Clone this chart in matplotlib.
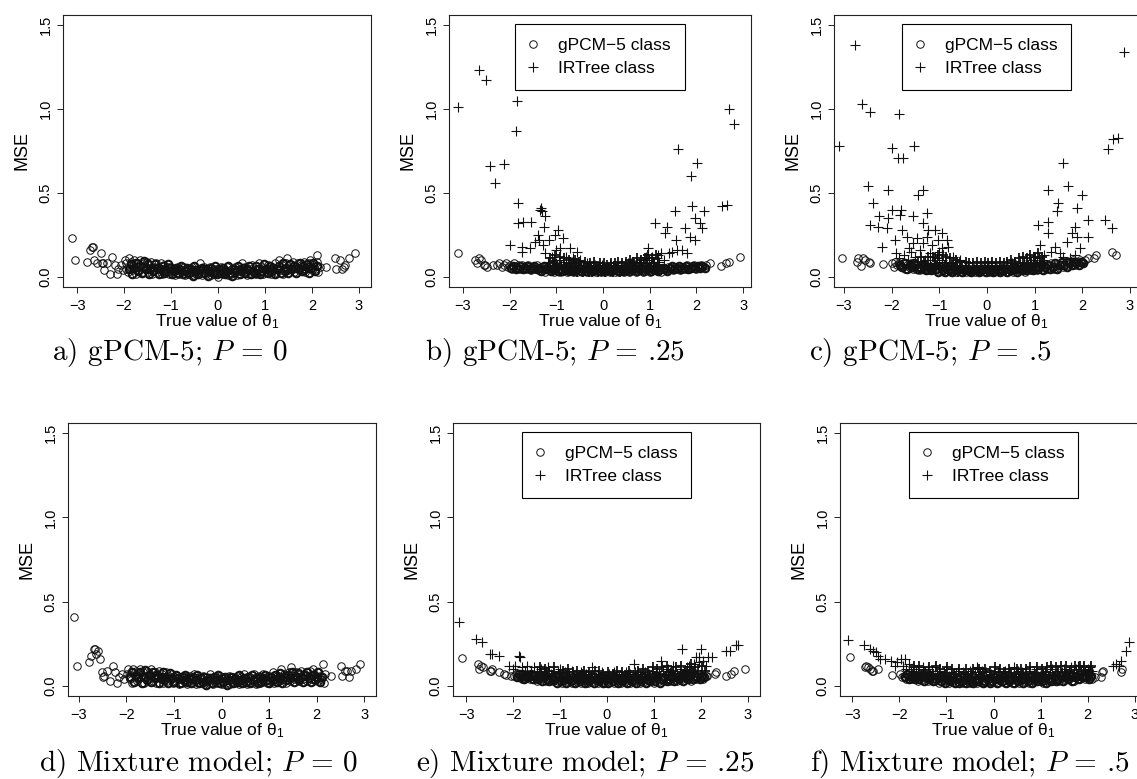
"""Recreate the 2x3 MSE-vs-true-theta scatter grid."""

import matplotlib

matplotlib.use("Agg")

import matplotlib.pyplot as plt  # noqa: E402
import numpy as np  # noqa: E402

plt.rcParams["font.family"] = ["Liberation Sans", "DejaVu Sans"]
plt.rcParams["mathtext.fontset"] = "custom"
plt.rcParams["mathtext.rm"] = "Liberation Sans"
plt.rcParams["mathtext.it"] = "Liberation Sans:italic"

# ── Data (theta, MSE) ────────────────────────────────────────────────────────
# *_GPCM / *_TREE hold the visible outliers plus one pass through the dense band,
# *_DENSE holds a second pass through the same band (the band is solid black).

A_GPCM = [
    (-3.10, 0.23), (-3.05, 0.10), (-2.78, 0.09), (-2.73, 0.16), (-2.68, 0.18), (-2.66, 0.18),
    (-2.63, 0.10), (-2.58, 0.08), (-2.50, 0.14), (-2.48, 0.08), (-2.44, 0.08), (-2.42, 0.04),
    (-2.36, 0.08), (-2.30, 0.02), (-2.25, 0.12), (-2.20, 0.07), (-2.15, 0.02), (-2.12, 0.05),
    (-2.06, 0.07), (-2.02, 0.04),
    (-1.98, 0.10), (-1.96, 0.05), (-1.95, 0.08), (-1.92, 0.03), (-1.90, 0.11), (-1.88, 0.06),
    (-1.85, 0.09), (-1.82, 0.04), (-1.80, 0.07), (-1.78, 0.10), (-1.75, 0.02), (-1.72, 0.06),
    (-1.70, 0.08), (-1.68, 0.04), (-1.65, 0.10), (-1.62, 0.06), (-1.60, 0.03), (-1.58, 0.08),
    (-1.55, 0.05), (-1.52, 0.09), (-1.50, 0.03), (-1.47, 0.07), (-1.44, 0.05), (-1.42, 0.09),
    (-1.40, 0.02), (-1.37, 0.06), (-1.35, 0.04), (-1.32, 0.08), (-1.30, 0.03), (-1.27, 0.06),
    (-1.25, 0.05), (-1.22, 0.08), (-1.20, 0.02), (-1.17, 0.04), (-1.15, 0.07), (-1.12, 0.03),
    (-1.10, 0.05), (-1.07, 0.06), (-1.05, 0.02), (-1.02, 0.04), (-1.00, 0.06), (-0.97, 0.03),
    (-0.94, 0.05), (-0.91, 0.01), (-0.88, 0.04), (-0.85, 0.06), (-0.82, 0.02), (-0.79, 0.04),
    (-0.76, 0.03), (-0.73, 0.06), (-0.70, 0.01), (-0.67, 0.04), (-0.64, 0.02), (-0.61, 0.05),
    (-0.58, 0.03), (-0.55, 0.06), (-0.52, 0.01), (-0.49, 0.04), (-0.46, 0.02), (-0.43, 0.05),
    (-0.40, 0.03), (-0.38, 0.08), (-0.35, 0.01), (-0.32, 0.04), (-0.29, 0.06), (-0.26, 0.02),
    (-0.23, 0.04), (-0.20, 0.03), (-0.17, 0.06), (-0.14, 0.01), (-0.11, 0.04), (-0.08, 0.02),
    (-0.05, 0.05), (-0.02, 0.03), (0.01, 0.00), (0.04, 0.04), (0.07, 0.06), (0.10, 0.02),
    (0.13, 0.04), (0.16, 0.03), (0.19, 0.06), (0.22, 0.01), (0.25, 0.04), (0.28, 0.02),
    (0.31, 0.05), (0.34, 0.03), (0.37, 0.06), (0.40, 0.01), (0.43, 0.04), (0.46, 0.02),
    (0.49, 0.05), (0.52, 0.08), (0.55, 0.03), (0.58, 0.06), (0.61, 0.01), (0.64, 0.04),
    (0.67, 0.02), (0.70, 0.05), (0.73, 0.07), (0.76, 0.03), (0.79, 0.05), (0.82, 0.02),
    (0.85, 0.04), (0.88, 0.08), (0.91, 0.03), (0.94, 0.06), (0.97, 0.02), (1.00, 0.05),
    (1.03, 0.03), (1.06, 0.07), (1.09, 0.04), (1.12, 0.02), (1.15, 0.06), (1.18, 0.04),
    (1.21, 0.08), (1.24, 0.03), (1.27, 0.05), (1.30, 0.10), (1.33, 0.04), (1.36, 0.07),
    (1.39, 0.02), (1.42, 0.05), (1.45, 0.08), (1.48, 0.11), (1.50, 0.04), (1.53, 0.07),
    (1.56, 0.05), (1.60, 0.09), (1.63, 0.03), (1.66, 0.06), (1.70, 0.08), (1.73, 0.04),
    (1.76, 0.07), (1.80, 0.05), (1.83, 0.09), (1.86, 0.03), (1.90, 0.06), (1.93, 0.08),
    (1.96, 0.10), (2.00, 0.04), (2.03, 0.07), (2.06, 0.05), (2.10, 0.09), (2.12, 0.13),
    (2.14, 0.03), (2.18, 0.06),
    (2.30, 0.06), (2.50, 0.11), (2.52, 0.05), (2.60, 0.10), (2.65, 0.05), (2.68, 0.06),
    (2.70, 0.07), (2.80, 0.11), (2.92, 0.14),
]
A_GPCM_DENSE = [
    (-1.90, 0.045), (-1.86, 0.075), (-1.82, 0.015), (-1.78, 0.055), (-1.74, 0.085),
    (-1.70, 0.035), (-1.66, 0.065), (-1.62, 0.025), (-1.58, 0.095), (-1.54, 0.045),
    (-1.50, 0.075), (-1.46, 0.015), (-1.42, 0.055), (-1.38, 0.035), (-1.34, 0.075),
    (-1.30, 0.055), (-1.26, 0.015), (-1.22, 0.045), (-1.18, 0.065), (-1.14, 0.025),
    (-1.10, 0.035), (-1.06, 0.075), (-1.02, 0.055), (-0.98, 0.015), (-0.94, 0.035),
    (-0.90, 0.055), (-0.86, 0.025), (-0.82, 0.045), (-0.78, 0.065), (-0.74, 0.015),
    (-0.70, 0.035), (-0.66, 0.055), (-0.62, 0.025), (-0.58, 0.045), (-0.54, 0.005),
    (-0.50, 0.065), (-0.46, 0.035), (-0.42, 0.015), (-0.38, 0.045), (-0.34, 0.055),
    (-0.30, 0.025), (-0.26, 0.045), (-0.22, 0.005), (-0.18, 0.035), (-0.14, 0.055),
    (-0.10, 0.025), (-0.06, 0.065), (-0.02, 0.015), (0.02, 0.045), (0.06, 0.025),
    (0.10, 0.055), (0.14, 0.015), (0.18, 0.035), (0.22, 0.065), (0.26, 0.025),
    (0.30, 0.005), (0.34, 0.045), (0.38, 0.035), (0.42, 0.065), (0.46, 0.015),
    (0.50, 0.035), (0.54, 0.055), (0.58, 0.025), (0.62, 0.045), (0.66, 0.065),
    (0.70, 0.015), (0.74, 0.035), (0.78, 0.025), (0.82, 0.065), (0.86, 0.045),
    (0.90, 0.015), (0.94, 0.035), (0.98, 0.075), (1.02, 0.045), (1.06, 0.025),
    (1.10, 0.065), (1.14, 0.035), (1.18, 0.055), (1.22, 0.015), (1.26, 0.045),
    (1.30, 0.065), (1.34, 0.025), (1.38, 0.085), (1.42, 0.035), (1.46, 0.055),
    (1.50, 0.025), (1.54, 0.075), (1.58, 0.045), (1.62, 0.065), (1.66, 0.025),
    (1.70, 0.055), (1.74, 0.085), (1.78, 0.035), (1.82, 0.065), (1.86, 0.045),
    (1.90, 0.075), (1.94, 0.025), (1.98, 0.055), (2.02, 0.085), (2.06, 0.035),
    (2.10, 0.065),
]

B_GPCM = [
    (-3.10, 0.14), (-2.74, 0.10), (-2.70, 0.08), (-2.66, 0.11), (-2.62, 0.10), (-2.56, 0.07),
    (-2.52, 0.07), (-2.49, 0.06), (-2.36, 0.07), (-2.28, 0.07), (-2.22, 0.08), (-2.16, 0.06),
    (-2.12, 0.07), (-2.08, 0.08), (-2.04, 0.06),
    (-2.00, 0.07), (-1.95, 0.05), (-1.90, 0.08), (-1.86, 0.06), (-1.82, 0.07), (-1.77, 0.05),
    (-1.73, 0.07), (-1.68, 0.06), (-1.64, 0.05), (-1.60, 0.07), (-1.55, 0.04), (-1.50, 0.06),
    (-1.46, 0.05), (-1.42, 0.07), (-1.37, 0.04), (-1.33, 0.06), (-1.28, 0.05), (-1.24, 0.03),
    (-1.20, 0.06), (-1.15, 0.04), (-1.10, 0.05), (-1.06, 0.03), (-1.02, 0.06), (-0.97, 0.04),
    (-0.92, 0.03), (-0.88, 0.05), (-0.83, 0.04), (-0.78, 0.03), (-0.74, 0.05), (-0.70, 0.04),
    (-0.65, 0.03), (-0.60, 0.05), (-0.55, 0.03), (-0.50, 0.04), (-0.45, 0.03), (-0.40, 0.05),
    (-0.35, 0.03), (-0.30, 0.04), (-0.25, 0.03), (-0.20, 0.05), (-0.15, 0.03), (-0.10, 0.04),
    (-0.05, 0.03), (0.00, 0.05), (0.05, 0.03), (0.10, 0.04), (0.15, 0.03), (0.20, 0.05),
    (0.25, 0.03), (0.30, 0.04), (0.35, 0.03), (0.40, 0.05), (0.45, 0.03), (0.50, 0.04),
    (0.55, 0.03), (0.60, 0.05), (0.65, 0.04), (0.70, 0.03), (0.75, 0.05), (0.80, 0.04),
    (0.85, 0.03), (0.90, 0.05), (0.95, 0.04), (1.00, 0.03), (1.05, 0.05), (1.10, 0.04),
    (1.15, 0.06), (1.20, 0.04), (1.25, 0.03), (1.30, 0.05), (1.35, 0.04), (1.40, 0.06),
    (1.45, 0.05), (1.50, 0.04), (1.55, 0.06), (1.60, 0.05), (1.65, 0.04), (1.70, 0.06),
    (1.75, 0.05), (1.80, 0.07), (1.85, 0.05), (1.90, 0.06), (1.95, 0.07), (2.00, 0.05),
    (2.05, 0.06), (2.10, 0.07), (2.15, 0.06), (2.20, 0.07),
    (2.30, 0.08), (2.52, 0.065), (2.64, 0.085), (2.70, 0.09), (2.93, 0.12),
]
B_GPCM_DENSE = [
    (-1.975, 0.055), (-1.925, 0.065), (-1.875, 0.045), (-1.825, 0.055), (-1.775, 0.065),
    (-1.725, 0.045), (-1.675, 0.055), (-1.625, 0.065), (-1.575, 0.045), (-1.525, 0.055),
    (-1.475, 0.065), (-1.425, 0.045), (-1.375, 0.055), (-1.325, 0.035), (-1.275, 0.065),
    (-1.225, 0.045), (-1.175, 0.055), (-1.125, 0.035), (-1.075, 0.045), (-1.025, 0.055),
    (-0.975, 0.035), (-0.925, 0.045), (-0.875, 0.035), (-0.825, 0.055), (-0.775, 0.045),
    (-0.725, 0.035), (-0.675, 0.045), (-0.625, 0.035), (-0.575, 0.045), (-0.525, 0.055),
    (-0.475, 0.035), (-0.425, 0.045), (-0.375, 0.035), (-0.325, 0.055), (-0.275, 0.045),
    (-0.225, 0.035), (-0.175, 0.045), (-0.125, 0.055), (-0.075, 0.035), (-0.025, 0.045),
    (0.025, 0.035), (0.075, 0.055), (0.125, 0.045), (0.175, 0.035), (0.225, 0.045),
    (0.275, 0.055), (0.325, 0.035), (0.375, 0.045), (0.425, 0.035), (0.475, 0.055),
    (0.525, 0.045), (0.575, 0.035), (0.625, 0.045), (0.675, 0.055), (0.725, 0.035),
    (0.775, 0.045), (0.825, 0.055), (0.875, 0.035), (0.925, 0.045), (0.975, 0.055),
    (1.025, 0.035), (1.075, 0.045), (1.125, 0.055), (1.175, 0.035), (1.225, 0.045),
    (1.275, 0.055), (1.325, 0.045), (1.375, 0.035), (1.425, 0.055), (1.475, 0.065),
    (1.525, 0.045), (1.575, 0.055), (1.625, 0.065), (1.675, 0.045), (1.725, 0.055),
    (1.775, 0.065), (1.825, 0.045), (1.875, 0.055), (1.925, 0.065), (1.975, 0.055),
    (2.025, 0.065), (2.075, 0.055), (2.125, 0.065), (2.175, 0.055),
]

B_TREE = [
    (-3.10, 1.01), (-2.65, 1.23), (-2.50, 1.17), (-2.42, 0.66), (-2.31, 0.56), (-2.12, 0.67),
    (-1.85, 1.05), (-1.87, 0.87), (-1.82, 0.44), (-1.82, 0.32), (-1.71, 0.33), (-1.54, 0.33),
    (-1.99, 0.19), (-1.73, 0.18), (-1.73, 0.15), (-1.56, 0.17), (-1.35, 0.40), (-1.30, 0.39),
    (-1.33, 0.41), (-1.24, 0.36), (-1.26, 0.30), (-1.39, 0.25), (-1.37, 0.22), (-1.28, 0.19),
    (-1.03, 0.25), (-0.96, 0.28), (-0.86, 0.23), (-1.24, 0.14), (-1.09, 0.12), (-0.92, 0.17),
    (-0.71, 0.17), (-0.56, 0.15), (-1.45, 0.21), (-1.15, 0.22), (-1.00, 0.16), (-0.80, 0.12),
    (-0.65, 0.11), (-0.50, 0.10), (-1.18, 0.09), (-1.05, 0.10),
    (0.97, 0.17), (1.05, 0.12), (1.11, 0.32), (1.18, 0.13), (1.25, 0.14), (1.33, 0.26),
    (1.37, 0.30), (1.42, 0.14), (1.48, 0.15), (1.54, 0.39), (1.56, 0.22), (1.58, 0.16),
    (1.60, 0.76), (1.69, 0.16), (1.76, 0.29), (1.80, 0.14), (1.86, 0.24), (1.88, 0.60),
    (1.90, 0.42), (1.97, 0.35), (1.97, 0.22), (2.01, 0.68), (2.08, 0.32), (2.12, 0.29),
    (2.16, 0.39), (2.55, 0.42), (2.65, 0.43), (2.70, 1.00), (2.80, 0.91), (0.80, 0.10),
    (0.92, 0.12), (1.30, 0.10), (0.60, 0.08),
    (-0.95, 0.10), (-0.90, 0.07), (-0.85, 0.09), (-0.80, 0.06), (-0.75, 0.08), (-0.70, 0.05),
    (-0.66, 0.09), (-0.62, 0.06), (-0.58, 0.08), (-0.54, 0.05), (-0.50, 0.07), (-0.46, 0.04),
    (-0.42, 0.07), (-0.38, 0.05), (-0.34, 0.08), (-0.30, 0.04), (-0.26, 0.06), (-0.22, 0.05),
    (-0.18, 0.07), (-0.14, 0.04), (-0.10, 0.06), (-0.06, 0.05), (-0.02, 0.07), (0.02, 0.04),
    (0.06, 0.06), (0.10, 0.05), (0.14, 0.07), (0.18, 0.04), (0.22, 0.06), (0.26, 0.05),
    (0.30, 0.07), (0.34, 0.04), (0.38, 0.06), (0.42, 0.05), (0.46, 0.07), (0.50, 0.05),
    (0.54, 0.08), (0.58, 0.06), (0.62, 0.05), (0.66, 0.07), (0.70, 0.09), (0.74, 0.06),
    (0.78, 0.08), (0.82, 0.07), (0.86, 0.09), (0.90, 0.06), (0.94, 0.08), (0.98, 0.10),
    (1.02, 0.07), (1.06, 0.09), (1.10, 0.08), (1.15, 0.11), (1.20, 0.09), (-1.00, 0.08),
    (-1.05, 0.06), (-1.10, 0.07), (-1.20, 0.06),
]
B_TREE_DENSE = [
    (-0.93, 0.12), (-0.88, 0.05), (-0.83, 0.11), (-0.78, 0.04), (-0.73, 0.10), (-0.68, 0.07),
    (-0.63, 0.04), (-0.59, 0.10), (-0.55, 0.03), (-0.51, 0.09), (-0.47, 0.06), (-0.43, 0.03),
    (-0.39, 0.09), (-0.35, 0.06), (-0.31, 0.03), (-0.27, 0.08), (-0.23, 0.03), (-0.19, 0.09),
    (-0.15, 0.06), (-0.11, 0.03), (-0.07, 0.08), (-0.03, 0.04), (0.01, 0.08), (0.05, 0.03),
    (0.09, 0.07), (0.13, 0.04), (0.17, 0.08), (0.21, 0.03), (0.25, 0.08), (0.29, 0.05),
    (0.33, 0.09), (0.37, 0.03), (0.41, 0.08), (0.45, 0.04), (0.49, 0.09), (0.53, 0.05),
    (0.57, 0.10), (0.61, 0.04), (0.65, 0.09), (0.69, 0.05), (0.73, 0.11), (0.77, 0.05),
    (0.81, 0.10), (0.85, 0.06), (0.89, 0.11), (0.93, 0.05), (0.97, 0.13), (1.01, 0.06),
    (1.05, 0.11), (1.09, 0.06), (1.13, 0.13), (1.18, 0.07), (-0.98, 0.07), (-1.03, 0.13),
    (-1.08, 0.09), (-1.13, 0.11), (-1.15, 0.08),
]

C_GPCM = [
    (-3.04, 0.11), (-2.73, 0.09), (-2.70, 0.11), (-2.64, 0.065), (-2.60, 0.11), (-2.55, 0.10),
    (-2.48, 0.09), (-2.45, 0.085), (-2.18, 0.077), (-1.99, 0.08), (-1.95, 0.06), (-1.92, 0.09),
    (-1.88, 0.07),
    (-1.85, 0.08), (-1.80, 0.06), (-1.76, 0.08), (-1.72, 0.05), (-1.68, 0.07), (-1.64, 0.06),
    (-1.60, 0.08), (-1.55, 0.05), (-1.50, 0.07), (-1.46, 0.06), (-1.42, 0.04), (-1.38, 0.07),
    (-1.33, 0.05), (-1.28, 0.06), (-1.24, 0.04), (-1.20, 0.06), (-1.15, 0.05), (-1.10, 0.04),
    (-1.05, 0.06), (-1.00, 0.04), (-0.95, 0.05), (-0.90, 0.03), (-0.85, 0.05), (-0.80, 0.04),
    (-0.75, 0.03), (-0.70, 0.05), (-0.65, 0.03), (-0.60, 0.04), (-0.55, 0.03), (-0.50, 0.05),
    (-0.45, 0.03), (-0.40, 0.04), (-0.35, 0.03), (-0.30, 0.05), (-0.25, 0.03), (-0.20, 0.04),
    (-0.15, 0.03), (-0.10, 0.05), (-0.05, 0.03), (0.00, 0.04), (0.05, 0.03), (0.10, 0.05),
    (0.15, 0.03), (0.20, 0.04), (0.25, 0.03), (0.30, 0.05), (0.35, 0.04), (0.40, 0.03),
    (0.45, 0.05), (0.50, 0.04), (0.55, 0.03), (0.60, 0.05), (0.65, 0.04), (0.70, 0.06),
    (0.75, 0.04), (0.80, 0.03), (0.85, 0.05), (0.90, 0.04), (0.95, 0.06), (1.00, 0.05),
    (1.05, 0.04), (1.10, 0.06), (1.15, 0.05), (1.20, 0.07), (1.25, 0.05), (1.30, 0.06),
    (1.35, 0.08), (1.40, 0.05), (1.45, 0.07), (1.50, 0.06), (1.55, 0.08), (1.60, 0.06),
    (1.65, 0.09), (1.70, 0.07), (1.75, 0.08), (1.80, 0.10), (1.85, 0.07), (1.90, 0.09),
    (1.95, 0.10), (2.00, 0.08), (2.05, 0.10),
    (2.12, 0.11), (2.25, 0.11), (2.28, 0.13), (2.62, 0.15), (2.70, 0.13),
]
C_GPCM_DENSE = [
    (-1.825, 0.07), (-1.775, 0.06), (-1.725, 0.08), (-1.675, 0.05), (-1.625, 0.07),
    (-1.575, 0.06), (-1.525, 0.08), (-1.475, 0.05), (-1.425, 0.06), (-1.375, 0.05),
    (-1.325, 0.07), (-1.275, 0.04), (-1.225, 0.06), (-1.175, 0.04), (-1.125, 0.06),
    (-1.075, 0.05), (-1.025, 0.03), (-0.975, 0.06), (-0.925, 0.04), (-0.875, 0.03),
    (-0.825, 0.05), (-0.775, 0.04), (-0.725, 0.03), (-0.675, 0.05), (-0.625, 0.04),
    (-0.575, 0.05), (-0.525, 0.03), (-0.475, 0.04), (-0.425, 0.05), (-0.375, 0.04),
    (-0.325, 0.03), (-0.275, 0.05), (-0.225, 0.04), (-0.175, 0.03), (-0.125, 0.04),
    (-0.075, 0.05), (-0.025, 0.03), (0.025, 0.05), (0.075, 0.04), (0.125, 0.03),
    (0.175, 0.05), (0.225, 0.04), (0.275, 0.03), (0.325, 0.04), (0.375, 0.05),
    (0.425, 0.03), (0.475, 0.05), (0.525, 0.04), (0.575, 0.06), (0.625, 0.03),
    (0.675, 0.05), (0.725, 0.04), (0.775, 0.06), (0.825, 0.04), (0.875, 0.06),
    (0.925, 0.05), (0.975, 0.04), (1.025, 0.06), (1.075, 0.05), (1.125, 0.07),
    (1.175, 0.04), (1.225, 0.06), (1.275, 0.07), (1.325, 0.05), (1.375, 0.06),
    (1.425, 0.08), (1.475, 0.05), (1.525, 0.07), (1.575, 0.09), (1.625, 0.07),
    (1.675, 0.06), (1.725, 0.09), (1.775, 0.07), (1.825, 0.09), (1.875, 0.08),
    (1.925, 0.07), (1.975, 0.09), (2.025, 0.08),
]

C_TREE = [
    (-2.77, 1.38), (-3.10, 0.78), (-2.62, 1.03), (-2.45, 0.98), (-1.84, 0.97), (-1.99, 0.77),
    (-1.87, 0.71), (-1.76, 0.71), (-1.53, 0.78), (-2.49, 0.54), (-2.08, 0.52), (-2.39, 0.44),
    (-2.45, 0.31), (-2.29, 0.30), (-2.26, 0.36), (-2.08, 0.35), (-1.99, 0.40), (-2.10, 0.29),
    (-2.20, 0.18), (-1.93, 0.22), (-1.80, 0.40), (-1.82, 0.37), (-1.78, 0.28), (-1.68, 0.24),
    (-1.63, 0.17), (-1.55, 0.36), (-1.45, 0.49), (-1.34, 0.52), (-1.47, 0.23), (-1.34, 0.32),
    (-1.26, 0.38), (-1.24, 0.28), (-1.34, 0.20), (-1.09, 0.28), (-1.03, 0.22), (-0.94, 0.26),
    (-0.84, 0.22), (-0.94, 0.17), (-0.82, 0.18), (-0.71, 0.12), (-0.57, 0.10), (-1.90, 0.14),
    (-1.75, 0.13), (-1.60, 0.15), (-1.50, 0.12), (-1.40, 0.16), (-1.20, 0.14), (-1.15, 0.19),
    (-1.10, 0.12), (-1.00, 0.15), (-1.30, 0.10), (-1.65, 0.10), (-1.85, 0.11), (-1.55, 0.20),
    (-1.25, 0.24),
    (1.28, 0.33), (1.28, 0.52), (1.59, 0.68), (1.70, 0.54), (1.99, 0.49), (1.84, 0.30),
    (1.49, 0.44), (1.47, 0.39), (1.89, 0.41), (2.12, 0.34), (2.12, 0.24), (2.54, 0.76),
    (2.64, 0.82), (2.75, 0.83), (2.87, 1.34), (2.47, 0.34), (2.62, 0.29), (1.07, 0.31),
    (1.11, 0.19), (1.28, 0.26), (1.43, 0.18), (1.68, 0.21), (1.78, 0.26), (1.89, 0.24),
    (1.95, 0.17), (1.53, 0.14), (1.35, 0.15), (1.20, 0.13), (1.00, 0.12), (1.60, 0.12),
    (1.75, 0.11), (1.85, 0.13), (0.90, 0.10),
    (-0.95, 0.10), (-0.91, 0.07), (-0.87, 0.09), (-0.83, 0.06), (-0.79, 0.08), (-0.75, 0.05),
    (-0.71, 0.08), (-0.67, 0.06), (-0.63, 0.09), (-0.59, 0.05), (-0.55, 0.07), (-0.51, 0.04),
    (-0.47, 0.07), (-0.43, 0.05), (-0.39, 0.06), (-0.35, 0.04), (-0.31, 0.06), (-0.27, 0.05),
    (-0.23, 0.07), (-0.19, 0.04), (-0.15, 0.06), (-0.11, 0.05), (-0.07, 0.07), (-0.03, 0.04),
    (0.01, 0.06), (0.05, 0.05), (0.09, 0.08), (0.13, 0.04), (0.17, 0.06), (0.21, 0.05),
    (0.25, 0.07), (0.29, 0.04), (0.33, 0.06), (0.37, 0.05), (0.41, 0.07), (0.45, 0.05),
    (0.49, 0.06), (0.53, 0.08), (0.57, 0.05), (0.61, 0.07), (0.65, 0.06), (0.69, 0.08),
    (0.73, 0.06), (0.77, 0.09), (0.81, 0.07), (0.85, 0.09), (0.89, 0.06), (0.93, 0.08),
    (0.97, 0.10), (1.01, 0.07), (1.05, 0.09), (1.09, 0.11), (1.13, 0.08), (1.17, 0.10),
    (-1.00, 0.09), (-1.05, 0.11), (-1.12, 0.08), (-1.20, 0.10), (-1.28, 0.07),
]
C_TREE_DENSE = [
    (-0.93, 0.13), (-0.89, 0.05), (-0.85, 0.12), (-0.81, 0.04), (-0.77, 0.11), (-0.73, 0.07),
    (-0.69, 0.04), (-0.65, 0.10), (-0.61, 0.03), (-0.57, 0.09), (-0.53, 0.06), (-0.49, 0.03),
    (-0.45, 0.09), (-0.41, 0.04), (-0.37, 0.08), (-0.33, 0.03), (-0.29, 0.08), (-0.25, 0.04),
    (-0.21, 0.09), (-0.17, 0.03), (-0.13, 0.08), (-0.09, 0.04), (-0.05, 0.09), (-0.01, 0.03),
    (0.03, 0.08), (0.07, 0.04), (0.11, 0.09), (0.15, 0.03), (0.19, 0.08), (0.23, 0.04),
    (0.27, 0.09), (0.31, 0.05), (0.35, 0.08), (0.39, 0.03), (0.43, 0.09), (0.47, 0.04),
    (0.51, 0.10), (0.55, 0.04), (0.59, 0.09), (0.63, 0.05), (0.67, 0.11), (0.71, 0.05),
    (0.75, 0.12), (0.79, 0.05), (0.83, 0.11), (0.87, 0.07), (0.91, 0.13), (0.95, 0.06),
    (0.99, 0.12), (1.03, 0.07), (1.07, 0.14), (1.11, 0.08), (1.15, 0.12), (1.19, 0.07),
    (-0.98, 0.06), (-1.02, 0.13), (-1.07, 0.07), (-1.14, 0.12), (-1.18, 0.06), (-1.24, 0.12),
    (-1.32, 0.08), (-1.38, 0.12), (-1.44, 0.09),
]

D_GPCM = [
    (-3.10, 0.41), (-3.05, 0.12), (-2.78, 0.14), (-2.74, 0.18), (-2.68, 0.22), (-2.66, 0.22),
    (-2.64, 0.19), (-2.60, 0.21), (-2.55, 0.16), (-2.52, 0.08), (-2.50, 0.05), (-2.47, 0.06),
    (-2.40, 0.09), (-2.35, 0.03), (-2.28, 0.12), (-2.25, 0.08), (-2.20, 0.02), (-2.15, 0.05),
    (-2.10, 0.07), (-2.05, 0.04),
    (-1.99, 0.07), (-1.96, 0.10), (-1.93, 0.04), (-1.91, 0.08), (-1.88, 0.02), (-1.86, 0.10),
    (-1.83, 0.06), (-1.80, 0.09), (-1.77, 0.03), (-1.74, 0.07), (-1.71, 0.10), (-1.69, 0.05),
    (-1.66, 0.08), (-1.63, 0.02), (-1.60, 0.06), (-1.57, 0.09), (-1.54, 0.04), (-1.51, 0.07),
    (-1.48, 0.10), (-1.45, 0.03), (-1.43, 0.06), (-1.40, 0.08), (-1.37, 0.02), (-1.34, 0.05),
    (-1.31, 0.09), (-1.28, 0.04), (-1.26, 0.07), (-1.23, 0.02), (-1.20, 0.05), (-1.17, 0.08),
    (-1.14, 0.03), (-1.11, 0.06), (-1.08, 0.04), (-1.05, 0.07), (-1.02, 0.02), (-0.99, 0.05),
    (-0.96, 0.03), (-0.93, 0.06), (-0.90, 0.01), (-0.87, 0.04), (-0.84, 0.02), (-0.81, 0.06),
    (-0.78, 0.03), (-0.75, 0.05), (-0.72, 0.01), (-0.69, 0.04), (-0.66, 0.06), (-0.63, 0.02),
    (-0.60, 0.04), (-0.57, 0.07), (-0.54, 0.01), (-0.51, 0.03), (-0.48, 0.05), (-0.45, 0.02),
    (-0.42, 0.04), (-0.39, 0.06), (-0.36, 0.01), (-0.33, 0.03), (-0.30, 0.05), (-0.27, 0.02),
    (-0.24, 0.07), (-0.21, 0.04), (-0.18, 0.01), (-0.15, 0.03), (-0.12, 0.05), (-0.09, 0.02),
    (-0.06, 0.04), (-0.03, 0.06), (0.00, 0.01), (0.03, 0.03), (0.06, 0.05), (0.09, 0.02),
    (0.12, 0.04), (0.15, 0.06), (0.18, 0.01), (0.21, 0.03), (0.24, 0.05), (0.27, 0.02),
    (0.30, 0.04), (0.33, 0.06), (0.36, 0.01), (0.39, 0.03), (0.42, 0.05), (0.45, 0.02),
    (0.48, 0.07), (0.51, 0.04), (0.54, 0.01), (0.57, 0.03), (0.60, 0.05), (0.63, 0.02),
    (0.66, 0.04), (0.69, 0.07), (0.72, 0.01), (0.75, 0.03), (0.78, 0.06), (0.81, 0.02),
    (0.84, 0.04), (0.87, 0.07), (0.90, 0.03), (0.93, 0.05), (0.96, 0.02), (0.99, 0.06),
    (1.02, 0.03), (1.05, 0.05), (1.08, 0.08), (1.11, 0.02), (1.14, 0.04), (1.17, 0.06),
    (1.20, 0.03), (1.23, 0.05), (1.26, 0.10), (1.29, 0.04), (1.32, 0.07), (1.35, 0.02),
    (1.38, 0.05), (1.41, 0.08), (1.44, 0.03), (1.47, 0.11), (1.50, 0.06), (1.53, 0.04),
    (1.56, 0.08), (1.59, 0.05), (1.62, 0.03), (1.65, 0.07), (1.68, 0.09), (1.71, 0.04),
    (1.74, 0.06), (1.77, 0.08), (1.80, 0.03), (1.83, 0.06), (1.86, 0.09), (1.89, 0.04),
    (1.92, 0.10), (1.95, 0.07), (1.98, 0.05), (2.01, 0.08), (2.04, 0.03), (2.07, 0.06),
    (2.10, 0.04), (2.13, 0.13), (2.15, 0.02), (2.18, 0.07),
    (2.30, 0.06), (2.52, 0.12), (2.53, 0.06), (2.60, 0.09), (2.65, 0.09), (2.68, 0.05),
    (2.72, 0.09), (2.82, 0.10), (2.92, 0.13),
]
D_GPCM_DENSE = [
    (-1.92, 0.055), (-1.88, 0.085), (-1.84, 0.025), (-1.80, 0.065), (-1.76, 0.045),
    (-1.72, 0.085), (-1.68, 0.015), (-1.64, 0.055), (-1.60, 0.095), (-1.56, 0.035),
    (-1.52, 0.065), (-1.48, 0.025), (-1.44, 0.085), (-1.40, 0.045), (-1.36, 0.065),
    (-1.32, 0.015), (-1.28, 0.055), (-1.24, 0.085), (-1.20, 0.035), (-1.16, 0.055),
    (-1.12, 0.015), (-1.08, 0.075), (-1.04, 0.045), (-1.00, 0.025), (-0.96, 0.065),
    (-0.92, 0.045), (-0.88, 0.015), (-0.84, 0.055), (-0.80, 0.035), (-0.76, 0.065),
    (-0.72, 0.025), (-0.68, 0.045), (-0.64, 0.015), (-0.60, 0.055), (-0.56, 0.035),
    (-0.52, 0.065), (-0.48, 0.015), (-0.44, 0.045), (-0.40, 0.025), (-0.36, 0.055),
    (-0.32, 0.005), (-0.28, 0.035), (-0.24, 0.045), (-0.20, 0.015), (-0.16, 0.055),
    (-0.12, 0.035), (-0.08, 0.065), (-0.04, 0.015), (0.00, 0.045), (0.04, 0.025),
    (0.08, 0.055), (0.12, 0.005), (0.16, 0.035), (0.20, 0.055), (0.24, 0.015),
    (0.28, 0.045), (0.32, 0.025), (0.36, 0.065), (0.40, 0.035), (0.44, 0.015),
    (0.48, 0.045), (0.52, 0.025), (0.56, 0.055), (0.60, 0.015), (0.64, 0.065),
    (0.68, 0.035), (0.72, 0.045), (0.76, 0.015), (0.80, 0.055), (0.84, 0.025),
    (0.88, 0.045), (0.92, 0.065), (0.96, 0.035), (1.00, 0.015), (1.04, 0.055),
    (1.08, 0.035), (1.12, 0.065), (1.16, 0.025), (1.20, 0.045), (1.24, 0.075),
    (1.28, 0.015), (1.32, 0.055), (1.36, 0.035), (1.40, 0.065), (1.44, 0.045),
    (1.48, 0.085), (1.52, 0.025), (1.56, 0.055), (1.60, 0.075), (1.64, 0.035),
    (1.68, 0.055), (1.72, 0.025), (1.76, 0.065), (1.80, 0.085), (1.84, 0.045),
    (1.88, 0.025), (1.92, 0.065), (1.96, 0.035), (2.00, 0.055), (2.04, 0.085),
    (2.08, 0.025), (2.12, 0.055),
]

E_GPCM = [
    (-3.08, 0.165), (-2.75, 0.13), (-2.72, 0.10), (-2.68, 0.12), (-2.64, 0.11), (-2.50, 0.09),
    (-2.47, 0.09), (-2.45, 0.10), (-2.30, 0.08), (-2.20, 0.07), (-2.15, 0.065), (-2.05, 0.06),
    (-1.98, 0.06),
    (-1.94, 0.07), (-1.90, 0.05), (-1.86, 0.06), (-1.82, 0.04), (-1.78, 0.06), (-1.74, 0.05),
    (-1.70, 0.07), (-1.65, 0.04), (-1.60, 0.06), (-1.55, 0.05), (-1.50, 0.03), (-1.45, 0.06),
    (-1.40, 0.04), (-1.35, 0.05), (-1.30, 0.03), (-1.25, 0.05), (-1.20, 0.04), (-1.15, 0.03),
    (-1.10, 0.05), (-1.05, 0.03), (-1.00, 0.04), (-0.95, 0.02), (-0.90, 0.04), (-0.85, 0.03),
    (-0.80, 0.05), (-0.75, 0.02), (-0.70, 0.04), (-0.65, 0.03), (-0.60, 0.05), (-0.55, 0.02),
    (-0.50, 0.04), (-0.45, 0.03), (-0.40, 0.02), (-0.35, 0.04), (-0.30, 0.03), (-0.25, 0.05),
    (-0.20, 0.02), (-0.15, 0.04), (-0.10, 0.03), (-0.05, 0.02), (0.00, 0.04), (0.05, 0.03),
    (0.10, 0.05), (0.15, 0.02), (0.20, 0.04), (0.25, 0.03), (0.30, 0.02), (0.35, 0.04),
    (0.40, 0.03), (0.45, 0.05), (0.50, 0.02), (0.55, 0.04), (0.60, 0.03), (0.65, 0.05),
    (0.70, 0.02), (0.75, 0.04), (0.80, 0.03), (0.85, 0.05), (0.90, 0.03), (0.95, 0.04),
    (1.00, 0.02), (1.05, 0.04), (1.10, 0.03), (1.15, 0.05), (1.20, 0.03), (1.25, 0.04),
    (1.30, 0.06), (1.35, 0.03), (1.40, 0.05), (1.45, 0.04), (1.50, 0.03), (1.55, 0.05),
    (1.60, 0.04), (1.65, 0.06), (1.70, 0.04), (1.75, 0.05), (1.80, 0.03), (1.85, 0.05),
    (1.90, 0.04), (1.95, 0.06), (2.00, 0.05), (2.05, 0.04), (2.10, 0.06), (2.13, 0.06),
    (2.30, 0.07), (2.32, 0.08), (2.53, 0.06), (2.64, 0.07), (2.70, 0.09), (2.94, 0.10),
]
E_GPCM_DENSE = [
    (-1.92, 0.05), (-1.88, 0.07), (-1.84, 0.05), (-1.80, 0.07), (-1.76, 0.04), (-1.72, 0.06),
    (-1.675, 0.05), (-1.625, 0.07), (-1.575, 0.04), (-1.525, 0.06), (-1.475, 0.04),
    (-1.425, 0.05), (-1.375, 0.03), (-1.325, 0.06), (-1.275, 0.04), (-1.225, 0.03),
    (-1.175, 0.05), (-1.125, 0.04), (-1.075, 0.02), (-1.025, 0.05), (-0.975, 0.03),
    (-0.925, 0.05), (-0.875, 0.02), (-0.825, 0.04), (-0.775, 0.03), (-0.725, 0.05),
    (-0.675, 0.02), (-0.625, 0.04), (-0.575, 0.03), (-0.525, 0.05), (-0.475, 0.02),
    (-0.425, 0.04), (-0.375, 0.03), (-0.325, 0.05), (-0.275, 0.02), (-0.225, 0.04),
    (-0.175, 0.03), (-0.125, 0.05), (-0.075, 0.02), (-0.025, 0.04), (0.025, 0.02),
    (0.075, 0.04), (0.125, 0.03), (0.175, 0.05), (0.225, 0.02), (0.275, 0.04),
    (0.325, 0.03), (0.375, 0.05), (0.425, 0.02), (0.475, 0.04), (0.525, 0.03),
    (0.575, 0.05), (0.625, 0.02), (0.675, 0.04), (0.725, 0.03), (0.775, 0.05),
    (0.825, 0.02), (0.875, 0.04), (0.925, 0.03), (0.975, 0.05), (1.025, 0.03),
    (1.075, 0.05), (1.125, 0.02), (1.175, 0.04), (1.225, 0.05), (1.275, 0.03),
    (1.325, 0.04), (1.375, 0.05), (1.425, 0.03), (1.475, 0.05), (1.525, 0.04),
    (1.575, 0.06), (1.625, 0.03), (1.675, 0.05), (1.725, 0.04), (1.775, 0.06),
    (1.825, 0.04), (1.875, 0.06), (1.925, 0.05), (1.975, 0.04), (2.025, 0.06),
    (2.075, 0.05),
]

E_TREE = [
    (-3.15, 0.38), (-2.79, 0.28), (-2.66, 0.26), (-2.50, 0.19), (-2.45, 0.19), (-2.30, 0.18),
    (-2.09, 0.12), (-1.87, 0.18), (-1.85, 0.17), (-2.00, 0.10), (-1.95, 0.12), (-1.80, 0.11),
    (-1.75, 0.09), (-1.70, 0.12), (-1.62, 0.08), (-1.55, 0.11), (-1.50, 0.09),
    (-1.45, 0.08), (-1.40, 0.10), (-1.35, 0.07), (-1.30, 0.09), (-1.25, 0.11), (-1.20, 0.07),
    (-1.15, 0.09), (-1.10, 0.06), (-1.05, 0.08), (-1.00, 0.10), (-0.95, 0.06), (-0.90, 0.08),
    (-0.85, 0.05), (-0.80, 0.07), (-0.75, 0.09), (-0.70, 0.05), (-0.65, 0.07), (-0.60, 0.06),
    (-0.55, 0.08), (-0.50, 0.05), (-0.45, 0.07), (-0.40, 0.06), (-0.35, 0.04), (-0.32, 0.11),
    (-0.28, 0.07), (-0.24, 0.05), (-0.20, 0.07), (-0.15, 0.05), (-0.10, 0.08), (-0.05, 0.06),
    (0.00, 0.05), (0.05, 0.07), (0.10, 0.05), (0.15, 0.08), (0.20, 0.06), (0.25, 0.05),
    (0.30, 0.07), (0.35, 0.06), (0.40, 0.08), (0.45, 0.05), (0.50, 0.07), (0.55, 0.06),
    (0.57, 0.13), (0.60, 0.08), (0.65, 0.06), (0.70, 0.07), (0.75, 0.05), (0.80, 0.08),
    (0.85, 0.06), (0.90, 0.07), (0.95, 0.09), (1.00, 0.06), (1.05, 0.08), (1.10, 0.07),
    (1.15, 0.15), (1.20, 0.09), (1.25, 0.07), (1.30, 0.10), (1.35, 0.08), (1.40, 0.12),
    (1.45, 0.09), (1.50, 0.07), (1.55, 0.10), (1.60, 0.22), (1.65, 0.08), (1.70, 0.11),
    (1.75, 0.12), (1.80, 0.10), (1.85, 0.13), (1.90, 0.17), (1.95, 0.14), (1.97, 0.17),
    (2.00, 0.22), (2.05, 0.15), (2.10, 0.12), (2.15, 0.17), (2.23, 0.17),
    (2.53, 0.21), (2.63, 0.21), (2.74, 0.24), (2.80, 0.24),
]
E_TREE_DENSE = [
    (-1.43, 0.11), (-1.38, 0.05), (-1.33, 0.10), (-1.28, 0.06), (-1.23, 0.09), (-1.18, 0.05),
    (-1.13, 0.11), (-1.08, 0.04), (-1.03, 0.07), (-0.98, 0.04), (-0.93, 0.09), (-0.88, 0.06),
    (-0.83, 0.10), (-0.78, 0.04), (-0.73, 0.08), (-0.68, 0.04), (-0.63, 0.09), (-0.58, 0.04),
    (-0.53, 0.07), (-0.48, 0.09), (-0.43, 0.04), (-0.38, 0.08), (-0.33, 0.05), (-0.26, 0.09),
    (-0.22, 0.04), (-0.18, 0.09), (-0.13, 0.04), (-0.08, 0.07), (-0.03, 0.04), (0.02, 0.08),
    (0.07, 0.04), (0.12, 0.07), (0.17, 0.04), (0.22, 0.09), (0.27, 0.04), (0.32, 0.08),
    (0.37, 0.04), (0.42, 0.06), (0.47, 0.09), (0.52, 0.04), (0.62, 0.05), (0.67, 0.09),
    (0.72, 0.05), (0.77, 0.10), (0.82, 0.05), (0.87, 0.09), (0.92, 0.05), (0.97, 0.11),
    (1.02, 0.05), (1.07, 0.10), (1.12, 0.06), (1.18, 0.11), (1.23, 0.06), (1.28, 0.12),
    (1.33, 0.06), (1.38, 0.09), (1.43, 0.06), (1.48, 0.11), (1.53, 0.06), (1.58, 0.12),
    (1.63, 0.07), (1.68, 0.09), (1.73, 0.07), (1.78, 0.13), (1.83, 0.08), (1.88, 0.11),
    (1.93, 0.09), (2.03, 0.12), (2.08, 0.09),
]

F_GPCM = [
    (-3.04, 0.17), (-2.72, 0.11), (-2.70, 0.12), (-2.66, 0.11), (-2.62, 0.10), (-2.58, 0.09),
    (-2.55, 0.09), (-2.45, 0.10), (-2.15, 0.065), (-1.98, 0.07), (-1.95, 0.05),
    (-1.90, 0.06), (-1.86, 0.04), (-1.82, 0.06), (-1.78, 0.05), (-1.74, 0.04), (-1.70, 0.06),
    (-1.65, 0.05), (-1.60, 0.03), (-1.55, 0.05), (-1.50, 0.04), (-1.45, 0.06), (-1.40, 0.03),
    (-1.35, 0.05), (-1.30, 0.04), (-1.25, 0.03), (-1.20, 0.05), (-1.15, 0.02), (-1.10, 0.04),
    (-1.05, 0.03), (-1.00, 0.05), (-0.95, 0.02), (-0.90, 0.04), (-0.85, 0.03), (-0.80, 0.02),
    (-0.75, 0.04), (-0.70, 0.03), (-0.65, 0.02), (-0.60, 0.04), (-0.55, 0.03), (-0.50, 0.02),
    (-0.45, 0.04), (-0.40, 0.03), (-0.35, 0.02), (-0.30, 0.04), (-0.25, 0.03), (-0.20, 0.02),
    (-0.15, 0.04), (-0.10, 0.03), (-0.05, 0.02), (0.00, 0.04), (0.05, 0.03), (0.10, 0.02),
    (0.15, 0.04), (0.20, 0.03), (0.25, 0.02), (0.30, 0.04), (0.35, 0.03), (0.40, 0.02),
    (0.45, 0.04), (0.50, 0.03), (0.55, 0.02), (0.60, 0.04), (0.65, 0.03), (0.70, 0.05),
    (0.75, 0.02), (0.80, 0.04), (0.85, 0.03), (0.90, 0.05), (0.95, 0.03), (1.00, 0.04),
    (1.05, 0.02), (1.10, 0.04), (1.15, 0.03), (1.20, 0.05), (1.25, 0.03), (1.30, 0.04),
    (1.35, 0.05), (1.40, 0.03), (1.45, 0.05), (1.50, 0.04), (1.55, 0.06), (1.60, 0.04),
    (1.65, 0.05), (1.70, 0.03), (1.75, 0.05), (1.80, 0.04), (1.85, 0.06), (1.90, 0.05),
    (1.95, 0.04), (2.00, 0.06), (2.05, 0.05), (2.10, 0.04),
    (2.15, 0.05), (2.28, 0.05), (2.30, 0.08), (2.33, 0.09), (2.70, 0.08), (2.72, 0.10),
]
F_GPCM_DENSE = [
    (-1.88, 0.05), (-1.84, 0.07), (-1.80, 0.04), (-1.76, 0.06), (-1.72, 0.05),
    (-1.675, 0.04), (-1.625, 0.06), (-1.575, 0.04), (-1.525, 0.06), (-1.475, 0.03),
    (-1.425, 0.05), (-1.375, 0.04), (-1.325, 0.06), (-1.275, 0.03), (-1.225, 0.04),
    (-1.175, 0.05), (-1.125, 0.03), (-1.075, 0.05), (-1.025, 0.02), (-0.975, 0.04),
    (-0.925, 0.03), (-0.875, 0.05), (-0.825, 0.02), (-0.775, 0.04), (-0.725, 0.02),
    (-0.675, 0.03), (-0.625, 0.05), (-0.575, 0.02), (-0.525, 0.04), (-0.475, 0.03),
    (-0.425, 0.02), (-0.375, 0.04), (-0.325, 0.03), (-0.275, 0.05), (-0.225, 0.02),
    (-0.175, 0.03), (-0.125, 0.04), (-0.075, 0.02), (-0.025, 0.03), (0.025, 0.05),
    (0.075, 0.02), (0.125, 0.04), (0.175, 0.03), (0.225, 0.05), (0.275, 0.02),
    (0.325, 0.03), (0.375, 0.04), (0.425, 0.02), (0.475, 0.05), (0.525, 0.03),
    (0.575, 0.04), (0.625, 0.02), (0.675, 0.04), (0.725, 0.03), (0.775, 0.05),
    (0.825, 0.02), (0.875, 0.04), (0.925, 0.03), (0.975, 0.05), (1.025, 0.03),
    (1.075, 0.05), (1.125, 0.02), (1.175, 0.04), (1.225, 0.03), (1.275, 0.05),
    (1.325, 0.03), (1.375, 0.04), (1.425, 0.06), (1.475, 0.03), (1.525, 0.05),
    (1.575, 0.04), (1.625, 0.06), (1.675, 0.03), (1.725, 0.05), (1.775, 0.06),
    (1.825, 0.04), (1.875, 0.05), (1.925, 0.06), (1.975, 0.05), (2.025, 0.04),
    (2.075, 0.06),
]

F_TREE = [
    (-3.10, 0.27), (-2.75, 0.24), (-2.62, 0.22), (-2.55, 0.21), (-2.50, 0.20), (-2.45, 0.18),
    (-2.40, 0.16), (-2.30, 0.16), (-2.18, 0.15), (-2.10, 0.12), (-2.05, 0.14), (-1.97, 0.16),
    (-1.88, 0.16), (-1.92, 0.12), (-1.85, 0.10), (-1.80, 0.13), (-1.75, 0.09),
    (-1.70, 0.11), (-1.65, 0.08), (-1.60, 0.10), (-1.55, 0.07), (-1.50, 0.11), (-1.45, 0.08),
    (-1.40, 0.10), (-1.35, 0.07), (-1.30, 0.09), (-1.25, 0.11), (-1.20, 0.07), (-1.15, 0.09),
    (-1.10, 0.06), (-1.05, 0.08), (-1.00, 0.10), (-0.95, 0.06), (-0.90, 0.08), (-0.85, 0.05),
    (-0.80, 0.07), (-0.75, 0.09), (-0.70, 0.06), (-0.65, 0.08), (-0.60, 0.05), (-0.55, 0.07),
    (-0.50, 0.09), (-0.45, 0.06), (-0.40, 0.08), (-0.36, 0.11), (-0.32, 0.05), (-0.28, 0.07),
    (-0.24, 0.09), (-0.20, 0.06), (-0.15, 0.08), (-0.10, 0.05), (-0.05, 0.07), (0.00, 0.09),
    (0.05, 0.06), (0.10, 0.08), (0.15, 0.05), (0.20, 0.07), (0.25, 0.09), (0.30, 0.06),
    (0.35, 0.08), (0.40, 0.05), (0.44, 0.11), (0.48, 0.07), (0.52, 0.09), (0.56, 0.06),
    (0.60, 0.08), (0.65, 0.05), (0.70, 0.07), (0.75, 0.09), (0.80, 0.06), (0.85, 0.08),
    (0.90, 0.10), (0.95, 0.06), (1.00, 0.08), (1.05, 0.07), (1.10, 0.09), (1.15, 0.06),
    (1.20, 0.08), (1.25, 0.10), (1.30, 0.07), (1.35, 0.09), (1.40, 0.06), (1.45, 0.08),
    (1.50, 0.10), (1.55, 0.07), (1.60, 0.09), (1.65, 0.11), (1.70, 0.08), (1.75, 0.10),
    (1.80, 0.12), (1.85, 0.09), (1.90, 0.11), (1.95, 0.08), (2.00, 0.10), (2.05, 0.11),
    (2.10, 0.09),
    (2.54, 0.12), (2.60, 0.13), (2.66, 0.12), (2.71, 0.15), (2.81, 0.21), (2.88, 0.26),
]
F_TREE_DENSE = [
    (-1.73, 0.07), (-1.68, 0.12), (-1.63, 0.06), (-1.58, 0.12), (-1.53, 0.05), (-1.48, 0.09),
    (-1.43, 0.05), (-1.38, 0.11), (-1.33, 0.05), (-1.28, 0.07), (-1.23, 0.12), (-1.18, 0.05),
    (-1.13, 0.10), (-1.08, 0.05), (-1.03, 0.07), (-0.98, 0.11), (-0.93, 0.04), (-0.88, 0.10),
    (-0.83, 0.07), (-0.78, 0.04), (-0.73, 0.10), (-0.68, 0.04), (-0.63, 0.07), (-0.58, 0.10),
    (-0.53, 0.04), (-0.48, 0.07), (-0.43, 0.10), (-0.38, 0.05), (-0.30, 0.10), (-0.26, 0.04),
    (-0.22, 0.08), (-0.17, 0.10), (-0.12, 0.04), (-0.07, 0.09), (-0.02, 0.05), (0.03, 0.11),
    (0.08, 0.04), (0.13, 0.10), (0.18, 0.05), (0.23, 0.08), (0.28, 0.04), (0.33, 0.10),
    (0.38, 0.07), (0.46, 0.05), (0.50, 0.10), (0.54, 0.04), (0.58, 0.10), (0.63, 0.07),
    (0.68, 0.10), (0.73, 0.05), (0.78, 0.11), (0.83, 0.05), (0.88, 0.07), (0.93, 0.11),
    (0.98, 0.05), (1.03, 0.10), (1.08, 0.05), (1.13, 0.11), (1.18, 0.06), (1.23, 0.12),
    (1.28, 0.05), (1.33, 0.11), (1.38, 0.08), (1.43, 0.12), (1.48, 0.06), (1.53, 0.12),
    (1.58, 0.06), (1.63, 0.09), (1.68, 0.06), (1.73, 0.12), (1.78, 0.07), (1.83, 0.12),
    (1.88, 0.07), (1.93, 0.12), (1.98, 0.07), (2.03, 0.09), (2.08, 0.12),
]

CAPTIONS = [
    "a) gPCM-5; $P$ = 0",
    "b) gPCM-5; $P$ = .25",
    "c) gPCM-5; $P$ = .5",
    "d) Mixture model; $P$ = 0",
    "e) Mixture model; $P$ = .25",
    "f) Mixture model; $P$ = .5",
]
X_TICKS = [-3, -2, -1, 0, 1, 2, 3]
Y_TICKS = [0.0, 0.5, 1.0, 1.5]
Y_TICK_LABELS = ["0.0", "0.5", "1.0", "1.5"]
LEGEND_LABELS = ["gPCM\u22125 class", "IRTree class"]

# ── Layout (pixels) ──────────────────────────────────────────────────────────

W, H = 1137, 779
# (left, top, right, bottom), xlim, caption centre
LAYOUT = [
    ((63, 15, 371, 287), (-3.30, 3.26), (170, 352)),
    ((449, 15, 751, 287), (-3.30, 3.17), (555, 352)),
    ((834, 15, 1139, 287), (-3.21, 3.19), (930, 352)),
    ((68, 423, 376, 696), (-3.23, 3.25), (199, 764)),
    ((453, 423, 760, 696), (-3.28, 3.26), (585, 764)),
    ((840, 423, 1147, 696), (-3.26, 3.26), (970, 764)),
]
SERIES = [
    (A_GPCM, A_GPCM_DENSE, None, None),
    (B_GPCM, B_GPCM_DENSE, B_TREE, B_TREE_DENSE),
    (C_GPCM, C_GPCM_DENSE, C_TREE, C_TREE_DENSE),
    (D_GPCM, D_GPCM_DENSE, None, None),
    (E_GPCM, E_GPCM_DENSE, E_TREE, E_TREE_DENSE),
    (F_GPCM, F_GPCM_DENSE, F_TREE, F_TREE_DENSE),
]

INK = "#111111"
CIRCLE = dict(linestyle="none", marker="o", ms=5.4, mfc="none", mec=INK)
PLUS = dict(linestyle="none", marker="+", ms=7.2, mec=INK)

fig = plt.figure(figsize=(W / 100, H / 100), dpi=100)

for (box, xlim, cap_xy), series, caption in zip(LAYOUT, SERIES, CAPTIONS, strict=True):
    gpcm, gpcm_dense, tree, tree_dense = series
    left, top, right, bottom = box
    aw, ah = right - left, bottom - top
    ax = fig.add_axes([left / W, 1 - bottom / H, aw / W, ah / H])

    g = np.array(gpcm)
    gd = np.array(gpcm_dense)
    # overplotted band drawn heavier so it reads as solid black, like the original
    ax.plot(gd[:, 0], gd[:, 1], mew=1.5, **CIRCLE)
    h_circ = ax.plot(g[:, 0], g[:, 1], mew=0.7, label=LEGEND_LABELS[0], **CIRCLE)[0]
    if tree is not None:
        t = np.array(tree)
        td = np.array(tree_dense)
        ax.plot(td[:, 0], td[:, 1], mew=1.3, **PLUS)
        h_plus = ax.plot(t[:, 0], t[:, 1], mew=0.8, label=LEGEND_LABELS[1], **PLUS)[0]
        leg = ax.legend(
            handles=[h_circ, h_plus], loc="upper center",
            bbox_to_anchor=(0.5, 1 - 9 / ah), borderaxespad=0, fontsize=12.5,
            fancybox=False, edgecolor="black", framealpha=1, borderpad=0.8,
            handlelength=0.5, handletextpad=1.2, labelspacing=0.45,
        )
        leg.get_frame().set_linewidth(0.8)

    ax.set_xlim(*xlim)
    ax.set_ylim(-0.06, 1.56)
    ax.set_xticks(X_TICKS)
    ax.set_xticklabels([f"{v}".replace("-", "\u2212") for v in X_TICKS])
    ax.set_yticks(Y_TICKS)
    ax.set_yticklabels(Y_TICK_LABELS, rotation=90, va="center")
    ax.tick_params(length=4, width=0.7, labelsize=10.5, color="#222222")
    ax.tick_params(axis="x", pad=4.5)
    ax.tick_params(axis="y", pad=3.5)
    for sp in ax.spines.values():
        sp.set_linewidth(0.8)
        sp.set_color("#222222")

    ax.text(-41 / aw, 0.5, "MSE", rotation=90, ha="center", va="center",
            fontsize=13, transform=ax.transAxes)
    ax.text(0.5, -35 / ah, "True value of $\\mathrm{\u03b8}_1$", ha="center", va="center",
            fontsize=12.5, transform=ax.transAxes)

    fig.text(cap_xy[0] / W, 1 - cap_xy[1] / H, caption, ha="center", va="center",
             fontsize=21, family="cmr10", math_fontfamily="cm")

fig.savefig("out.png", dpi=100)
